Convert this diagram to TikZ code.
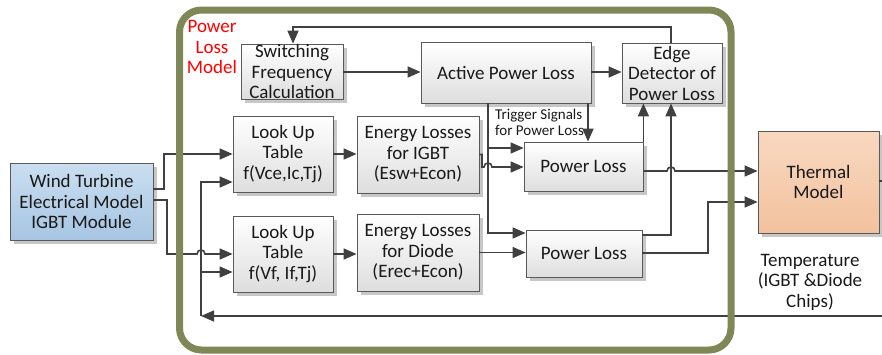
\documentclass[tikz,border=0pt]{standalone}
\usepackage{fontspec}
\setmainfont{Carlito}
\usetikzlibrary{arrows.meta,shadows}
\definecolor{framegreen}{HTML}{7F8757}
\definecolor{wirecol}{HTML}{404040}
\definecolor{boxborder}{HTML}{595959}
\definecolor{windtop}{RGB}{202,222,240}
\definecolor{windbot}{RGB}{167,197,227}
\definecolor{thermtop}{RGB}{248,216,192}
\definecolor{thermbot}{RGB}{242,194,158}
\begin{document}
\begin{tikzpicture}[x=1pt,y=-1pt,
  mainfont/.style={font=\fontsize{19}{20.5}\selectfont},
  box/.style={draw=boxborder, line width=0.8pt, top color=white, bottom color=black!13,
    drop shadow={shadow xshift=4pt,shadow yshift=-4pt,opacity=1,fill=black!22},
    align=center, inner sep=0pt, mainfont, text=black!90},
  wire/.style={draw=wirecol, line width=1.6pt},
  conn/.style={wire, -{Triangle[length=13pt,width=11pt]}}]
\useasboundingbox (0,0) rectangle (882,354);

% boxes
\node[box, minimum width=143, minimum height=77, top color=windtop, bottom color=windbot] (wind) at (81.5,201.5) {Wind Turbine\\Electrical Model\\IGBT Module};
\node[box, minimum width=102, minimum height=55] (sw) at (292,71.5) {Switching\\Frequency\\Calculation};
\node[box, minimum width=170, minimum height=61] (apl) at (506,72.5) {Active Power Loss};
\node[box, minimum width=100, minimum height=60] (edge) at (672,73) {Edge\\Detector of\\Power Loss};
\node[box, minimum width=100, minimum height=76] (lut1) at (283,154) {Look Up\\Table\\f(Vce,Ic,Tj)};
\node[box, minimum width=100, minimum height=76] (lut2) at (283,254) {Look Up\\Table\\f(Vf, If,Tj)};
\node[box, minimum width=122, minimum height=77] (eigbt) at (418,154.5) {Energy Losses\\for IGBT\\(Esw+Econ)};
\node[box, minimum width=122, minimum height=77] (ediode) at (418,252.5) {Energy Losses\\for Diode\\(Erec+Econ)};
\node[box, minimum width=119, minimum height=49] (pl1) at (583.5,166.5) {Power Loss};
\node[box, minimum width=116, minimum height=47] (pl2) at (584,253.5) {Power Loss};
\node[box, minimum width=121, minimum height=102, top color=thermtop, bottom color=thermbot] (thermal) at (818.5,182) {Thermal\\Model};

% free ends
\coordinate (outT) at (882,181);
\coordinate (inFB) at (882,316);
\coordinate (fbx) at (201,316);

% wind -> LUTs
\draw[conn] (wind.east |- 0,189) -- (164,189) -- (164,154) -- (lut1.west |- 0,154);
\draw[conn] (wind.east |- 0,200) -- (167,200) -- (167,254) -- (197,254)
  .. controls (197,248.7) and (205,248.7) .. (205,254) -- (lut2.west |- 0,254);
% temperature feedback
\draw[conn] (inFB) -- (fbx);
\draw[conn] (fbx) -- (201,182) -- (lut1.west |- 0,182);
\draw[conn] (201,272) -- (lut2.west |- 0,272);
% LUT -> energy
\draw[conn] (lut1.east) -- (eigbt.west |- lut1.east);
\draw[conn] (lut2.east) -- (ediode.west |- lut2.east);
% top row
\draw[conn] (sw.east |- 0,72) -- (apl.west |- 0,72);
\draw[conn] (apl.east |- 0,72) -- (edge.west |- 0,72);
\draw[conn] (edge.north -| 671,0) -- (671,27) -- (293,27) -- (sw.north -| 293,0);
% active power loss vertical
\draw[conn] (apl.south -| 488,0) -- (488,233) -- (pl2.west |- 0,233);
\draw[conn] (488,148) -- (pl1.west |- 0,148);
\draw[conn] (apl.south -| 588,0) -- (pl1.north -| 588,0);
% energy -> power loss
\draw[conn] (eigbt.east) -- (482,154.5) -- (482,167) -- (484,167)
  .. controls (484,161.7) and (492,161.7) .. (492,167) -- (pl1.west |- 0,167);
\draw[conn] (ediode.east) -- (pl2.west |- ediode.east);
% power loss -> edge detector
\draw[conn] (pl1.north east) -- (pl1.north east |- edge.south);
\draw[conn] (pl2.east |- 0,235) -- (671,235) -- (edge.south -| 671,0);
% power loss -> thermal
\draw[conn] (pl1.east |- 0,171) -- (667,171)
  .. controls (667,165.7) and (675,165.7) .. (675,171) -- (thermal.west |- 0,171);
\draw[conn] (pl2.east |- 0,253) -- (708,253) -- (708,202) -- (thermal.west |- 0,202);
\draw[wire] (thermal.east |- outT) -- (outT);

% frame
\draw[line width=7pt, draw=framegreen, rounded corners=22pt] (179.5,10) rectangle (731,350);

% labels
\node[mainfont, text=red, align=center, inner sep=0pt] (plm) at (212,47) {Power\\Loss\\Model};
\node[font=\fontsize{15}{16}\selectfont, align=left, anchor=west, inner sep=0pt, text=black!90] (trig) at (495,122) {Trigger Signals\\for Power Loss};
\node[mainfont, align=center, inner sep=0pt, text=black!90] (temp) at (810,282) {Temperature\\(IGBT \&Diode\\Chips)};
\end{tikzpicture}
\end{document}
